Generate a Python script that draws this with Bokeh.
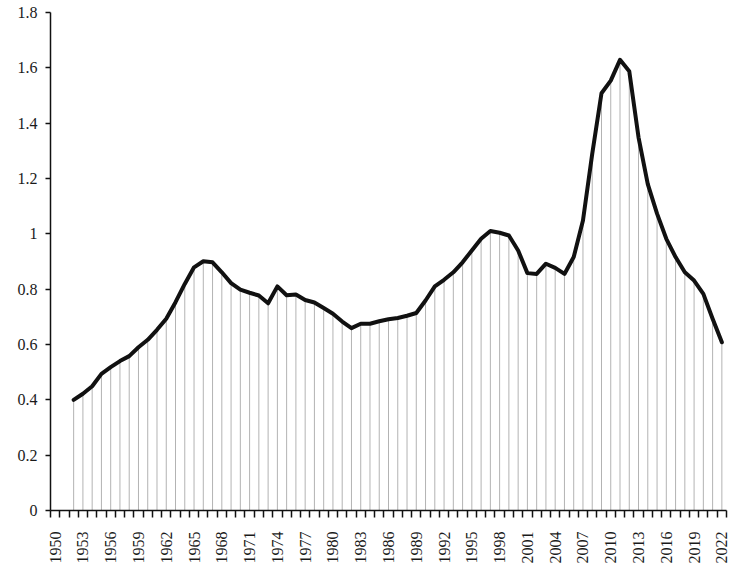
import math
from bokeh.plotting import figure
from bokeh.models import FixedTicker, CustomJSTickFormatter, Range1d
from bokeh.embed import file_html
from bokeh.resources import INLINE

years = list(range(1952, 2023))
values = [
    0.400, 0.422, 0.449, 0.494, 0.518, 0.540, 0.558, 0.590, 0.617, 0.653,  # 1952-1961
    0.693, 0.753, 0.819, 0.879, 0.901, 0.897, 0.861, 0.822, 0.798, 0.787,  # 1962-1971
    0.777, 0.749, 0.810, 0.778, 0.781, 0.761, 0.752, 0.732, 0.711, 0.683,  # 1972-1981
    0.659, 0.675, 0.675, 0.684, 0.691, 0.696, 0.704, 0.714, 0.759, 0.810,  # 1982-1991
    0.834, 0.861, 0.897, 0.940, 0.982, 1.010, 1.004, 0.994, 0.940, 0.858,  # 1992-2001
    0.855, 0.892, 0.877, 0.855, 0.916, 1.048, 1.289, 1.508, 1.554, 1.629,  # 2002-2011
    1.588, 1.349, 1.180, 1.073, 0.982, 0.916, 0.861, 0.831, 0.783, 0.693,  # 2012-2021
    0.608,                                                                 # 2022
]
label_years = list(range(1950, 2023, 3))
category_edges = [y - 0.5 for y in range(1950, 2024)]
y_ticks = [0, 0.2, 0.4, 0.6, 0.8, 1.0, 1.2, 1.4, 1.6, 1.8]

FONT = "Liberation Serif"
TXT = "#1a1a1a"

p = figure(
    frame_width=676, frame_height=498,
    min_border_left=50, min_border_right=7, min_border_top=12, min_border_bottom=54,
    output_backend="svg", toolbar_location=None,
    x_range=Range1d(1949.5, 2022.5), y_range=Range1d(0, 1.8),
)
p.outline_line_color = None
p.xgrid.visible = False
p.ygrid.visible = False
p.background_fill_color = "white"
p.border_fill_color = "white"

# drop lines
p.segment(x0=years, y0=[0] * len(years), x1=years, y1=values,
          line_color="#b3b3b3", line_width=1)
# main line
p.line(years, values, line_color="#111111", line_width=4,
       line_join="round", line_cap="round")

# x axis
xa = p.xaxis[0]
xa.ticker = FixedTicker(ticks=label_years, minor_ticks=category_edges)
xa.major_tick_out = 0
xa.major_tick_in = 0
xa.minor_tick_out = 7
xa.minor_tick_in = 0
xa.minor_tick_line_color = "#111111"
xa.minor_tick_line_width = 1.5
xa.axis_line_color = "#111111"
xa.axis_line_width = 1.5
xa.major_label_orientation = math.pi / 2
xa.major_label_text_font = FONT
xa.major_label_text_font_size = "16px"
xa.major_label_text_color = TXT
xa.major_label_standoff = 14
xa.formatter = CustomJSTickFormatter(code="return String(tick)")

# y axis
ya = p.yaxis[0]
ya.ticker = FixedTicker(ticks=y_ticks, minor_ticks=[])
ya.major_tick_out = 5
ya.major_tick_in = 0
ya.major_tick_line_color = "#111111"
ya.major_tick_line_width = 1.5
ya.axis_line_color = "#111111"
ya.axis_line_width = 1.5
ya.major_label_text_font = FONT
ya.major_label_text_font_size = "16px"
ya.major_label_text_color = TXT
ya.major_label_standoff = 8
ya.formatter = CustomJSTickFormatter(code="return String(Number(tick.toFixed(1)))")

open("out.html", "w").write(file_html(p, INLINE))
